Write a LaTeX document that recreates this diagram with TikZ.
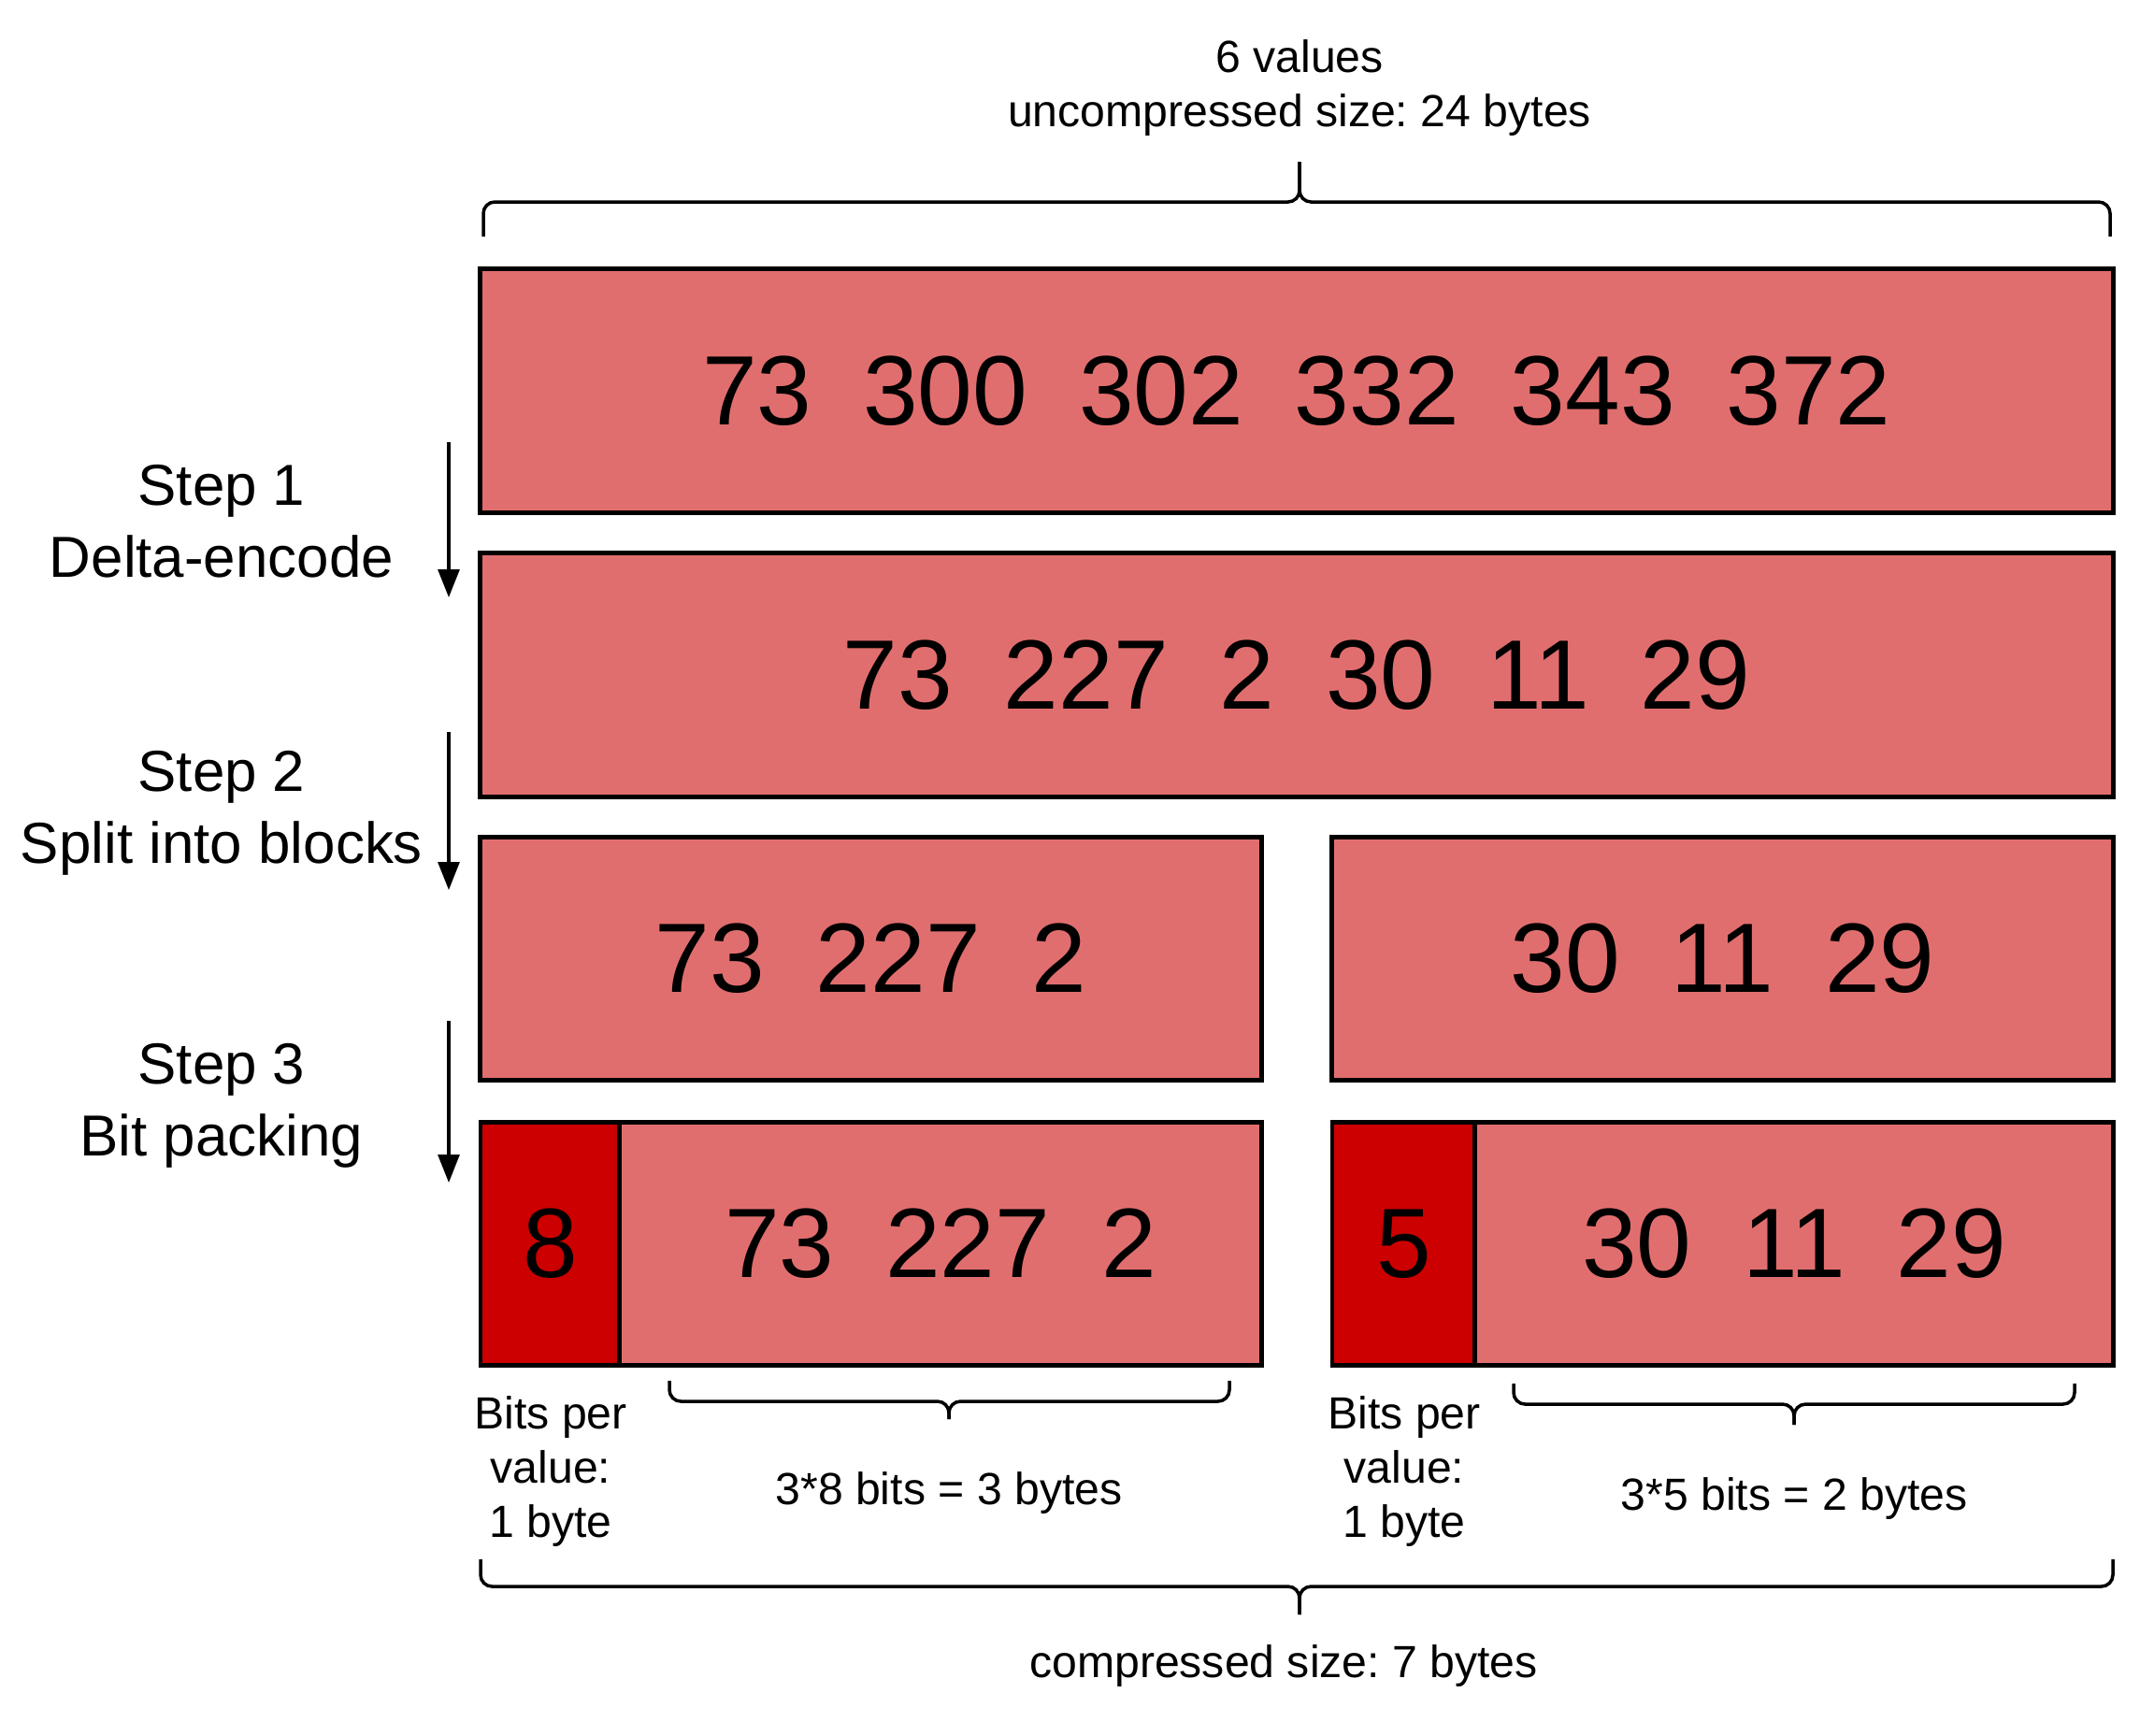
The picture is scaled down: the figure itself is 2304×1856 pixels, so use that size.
\documentclass[tikz,border=0pt]{standalone}
\usepackage{fontspec}
\setmainfont{Liberation Sans}
\usetikzlibrary{arrows.meta}
\definecolor{lightred}{HTML}{E16E6E}
\definecolor{darkred}{HTML}{CC0000}
\newcommand{\gp}{\hspace{0.52em}}
\frenchspacing
\begin{document}
\begin{tikzpicture}[x=0.01cm,y=-0.01cm,
  valbox/.style={draw=black,line width=1.4pt,fill=lightred,inner sep=0pt,minimum height=2.6cm,font=\fontsize{30}{36}\selectfont},
  bitbox/.style={valbox,fill=darkred},
  steplabel/.style={align=center,font=\fontsize{17.6}{21.9}\selectfont},
  note/.style={align=center,font=\fontsize{13.7}{16.5}\selectfont},
  bracepath/.style={line width=1pt,rounded corners=3.5pt},
  flow/.style={line width=0.9pt,-{Triangle[length=8.5pt,width=6.5pt]}}]
\useasboundingbox[fill=white] (0,0) rectangle (2304,1856);

% top label and brace
\node[note] (top) at (1390,94) {6 values\\uncompressed size: 24 bytes};
\draw[bracepath] (517,253) |- (1390,216) -- (1390,173);
\draw[bracepath] (2257,253) |- (1390,216) -- (1390,173);

% rows
\node[valbox,minimum width=17.46cm] (b1) at (1387,418) {73\gp300\gp302\gp332\gp343\gp372};
\node[valbox,minimum width=17.46cm] (b2) at (1387,722) {73\gp227\gp2\gp30\gp11\gp29};
\node[valbox,minimum width=8.35cm] (b3l) at (931.5,1025.5) {73\gp227\gp2};
\node[valbox,minimum width=8.35cm] (b3r) at (1842.5,1025.5) {30\gp11\gp29};
\node[bitbox,minimum width=1.49cm] (b4lb) at (588.5,1330.5) {8};
\node[valbox,minimum width=6.86cm] (b4lv) at (1006,1330.5) {73\gp227\gp2};
\node[bitbox,minimum width=1.53cm] (b4rb) at (1501.5,1330.5) {5};
\node[valbox,minimum width=6.82cm] (b4rv) at (1919,1330.5) {30\gp11\gp29};

% steps
\node[steplabel] (s1) at (237,558) {Step 1\\Delta-encode};
\node[steplabel] (s2) at (237,870) {Step 2\\Split into blocks};
\node[steplabel] (s3) at (237,1183) {Step 3\\Bit packing};
\coordinate (a1s) at (480,473); \coordinate (a1e) at (480,639);
\coordinate (a2s) at (480,783); \coordinate (a2e) at (480,952);
\coordinate (a3s) at (480,1092); \coordinate (a3e) at (480,1265);
\draw[flow] (a1s) -- (a1e);
\draw[flow] (a2s) -- (a2e);
\draw[flow] (a3s) -- (a3e);

% bottom annotations
\node[note] (bpl) at (589,1574) {Bits per\\value:\\1 byte};
\node[note] (bpr) at (1502,1574) {Bits per\\value:\\1 byte};
\draw[bracepath] (716,1477) |- (1015,1499) -- (1015,1518);
\draw[bracepath] (1315,1477) |- (1015,1499) -- (1015,1518);
\draw[bracepath] (1619,1480) |- (1919,1502) -- (1919,1524);
\draw[bracepath] (2219,1480) |- (1919,1502) -- (1919,1524);
\node[note] (szl) at (1015,1597) {3*8 bits = 3 bytes};
\node[note] (szr) at (1919,1603) {3*5 bits = 2 bytes};

\draw[bracepath] (514,1668) |- (1390,1697) -- (1390,1727);
\draw[bracepath] (2260,1668) |- (1390,1697) -- (1390,1727);
\node[note] (comp) at (1373,1782) {compressed size: 7 bytes};
\end{tikzpicture}
\end{document}
